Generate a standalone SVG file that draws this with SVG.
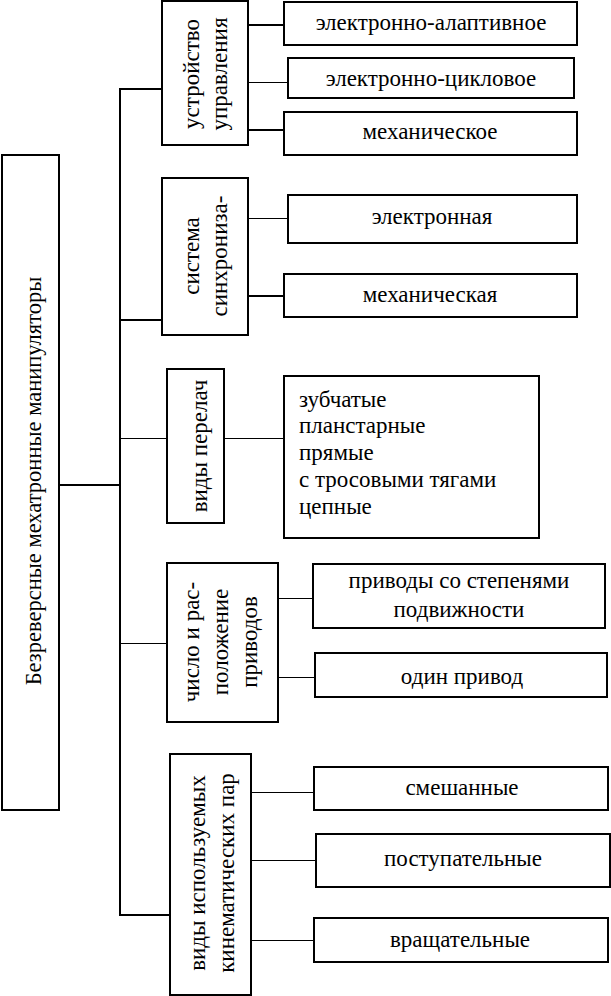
<svg xmlns="http://www.w3.org/2000/svg" width="611" height="996" viewBox="0 0 611 996">
<style>
.box{fill:#fff;stroke:#000;stroke-width:2}
.t{font-family:"Liberation Serif","DejaVu Serif",serif;font-size:23px;fill:#000}
.m{text-anchor:middle}
.thick{stroke:#000;stroke-width:2;fill:none}
.thin{stroke:#000;stroke-width:1;fill:none}
</style>
<rect width="611" height="996" fill="#fff"/>
<g id="connectors">
<line class="thick" x1="120" y1="88" x2="120" y2="916"/>
<line class="thick" x1="59" y1="485" x2="120" y2="485"/>
<line class="thick" x1="119" y1="89" x2="162" y2="89"/>
<line class="thick" x1="119" y1="320" x2="162" y2="320"/>
<line class="thin" x1="120" y1="438.5" x2="167" y2="438.5"/>
<line class="thin" x1="120" y1="643.5" x2="167" y2="643.5"/>
<line class="thick" x1="120" y1="915" x2="170" y2="915"/>
<line class="thick" x1="248" y1="25" x2="284" y2="25"/>
<line class="thin" x1="248" y1="82.5" x2="288" y2="82.5"/>
<line class="thick" x1="248" y1="130" x2="284" y2="130"/>
<line class="thin" x1="248" y1="218.5" x2="288" y2="218.5"/>
<line class="thick" x1="248" y1="296" x2="292" y2="296"/>
<line class="thin" x1="224" y1="438.5" x2="286" y2="438.5"/>
<line class="thin" x1="278" y1="598.5" x2="313" y2="598.5"/>
<line class="thin" x1="278" y1="677.5" x2="317" y2="677.5"/>
<line class="thin" x1="251" y1="792.5" x2="314" y2="792.5"/>
<line class="thin" x1="251" y1="860.5" x2="316" y2="860.5"/>
<line class="thin" x1="251" y1="940.5" x2="314" y2="940.5"/>
</g>
<g id="main">
<rect class="box" x="2" y="155" width="57" height="655"/>
<text class="t m" style="font-size:22.5px" transform="translate(41,481) rotate(-90)">Безреверсные мехатронные манипуляторы</text>
</g>
<g id="control">
<rect class="box" x="162" y="1" width="86" height="144"/>
<text class="t m" transform="translate(199,74) rotate(-90)">устройство</text>
<text class="t m" transform="translate(227,74) rotate(-90)">управления</text>
</g>
<g id="control-adaptive">
<rect class="box" x="284" y="2" width="293" height="43"/>
<text class="t m" x="431" y="30">электронно-алаптивное</text>
</g>
<g id="control-cycle">
<rect class="box" x="288" y="58" width="286" height="40"/>
<text class="t m" x="431" y="86">электронно-цикловое</text>
</g>
<g id="control-mech">
<rect class="box" x="284" y="112" width="293" height="43"/>
<text class="t m" x="430" y="139">механическое</text>
</g>
<g id="sync">
<rect class="box" x="162" y="178" width="86" height="157"/>
<text class="t m" transform="translate(199,256) rotate(-90)">система</text>
<text class="t m" transform="translate(227,256) rotate(-90)">синхрониза-</text>
</g>
<g id="sync-el">
<rect class="box" x="288" y="195" width="289" height="48"/>
<text class="t m" x="432" y="224">электронная</text>
</g>
<g id="sync-mech">
<rect class="box" x="284" y="274" width="293" height="43"/>
<text class="t m" x="430" y="302">механическая</text>
</g>
<g id="gears">
<rect class="box" x="167" y="369" width="57" height="154"/>
<text class="t m" transform="translate(207,446) rotate(-90)">виды перелач</text>
</g>
<g id="gears-list">
<rect class="box" x="284" y="376" width="255" height="162"/>
<text class="t" x="299" y="407">зубчатые</text>
<text class="t" x="299" y="433">планстарные</text>
<text class="t" x="299" y="460">прямые</text>
<text class="t" x="299" y="487">с тросовыми тягами</text>
<text class="t" x="299" y="514">цепные</text>
</g>
<g id="drives">
<rect class="box" x="167" y="563" width="111" height="159"/>
<text class="t m" transform="translate(199,642) rotate(-90)">число и рас-</text>
<text class="t m" transform="translate(228,642) rotate(-90)">положение</text>
<text class="t m" transform="translate(257,642) rotate(-90)">приводов</text>
</g>
<g id="drives-dof">
<rect class="box" x="313" y="564" width="292" height="64"/>
<text class="t m" x="459" y="588">приводы со степенями</text>
<text class="t m" x="459" y="617">подвижности</text>
</g>
<g id="drives-one">
<rect class="box" x="315" y="653" width="292" height="44"/>
<text class="t m" x="462" y="684">один привод</text>
</g>
<g id="pairs">
<rect class="box" x="170" y="754" width="81" height="241"/>
<text class="t m" transform="translate(205,873) rotate(-90)">виды используемых</text>
<text class="t m" transform="translate(234,873) rotate(-90)">кинематических пар</text>
</g>
<g id="pairs-mixed">
<rect class="box" x="314" y="767" width="294" height="43"/>
<text class="t m" x="462" y="795">смешанные</text>
</g>
<g id="pairs-trans">
<rect class="box" x="316" y="834" width="294" height="53"/>
<text class="t m" x="463" y="866">поступательные</text>
</g>
<g id="pairs-rot">
<rect class="box" x="314" y="918" width="294" height="44"/>
<text class="t m" x="460" y="947">вращательные</text>
</g>
</svg>
